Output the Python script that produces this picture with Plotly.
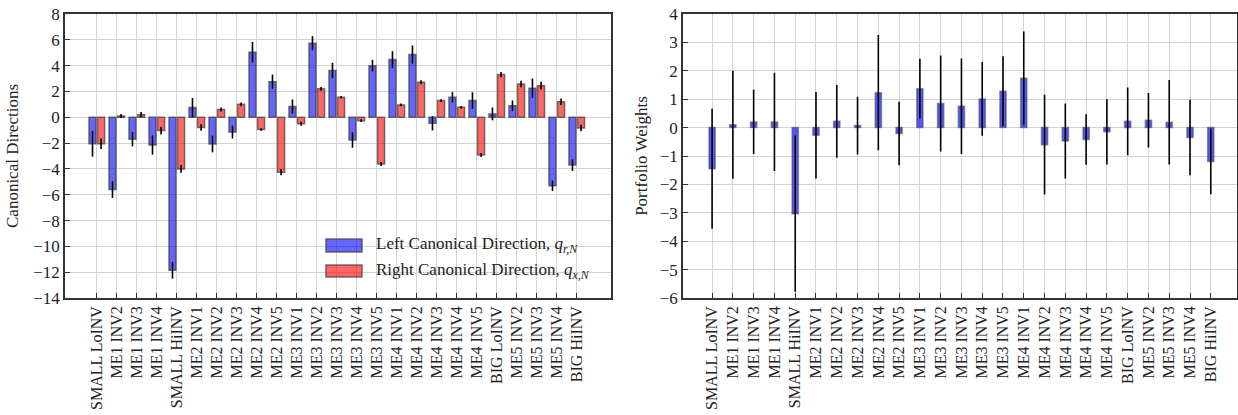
import plotly.graph_objects as go

categories = ["SMALL LoINV", "ME1 INV2", "ME1 INV3", "ME1 INV4", "SMALL HiINV",
              "ME2 INV1", "ME2 INV2", "ME2 INV3", "ME2 INV4", "ME2 INV5",
              "ME3 INV1", "ME3 INV2", "ME3 INV3", "ME3 INV4", "ME3 INV5",
              "ME4 INV1", "ME4 INV2", "ME4 INV3", "ME4 INV4", "ME4 INV5",
              "BIG LoINV", "ME5 INV2", "ME5 INV3", "ME5 INV4", "BIG HiINV"]

left_dir = [-2.05, -5.6, -1.7, -2.15, -11.85, 0.75, -2.07, -1.15, 5.04, 2.76,
            0.83, 5.74, 3.62, -1.76, 4.0, 4.47, 4.86, -0.47, 1.55, 1.29,
            0.26, 0.9, 2.25, -5.3, -3.7]
left_err = [1.0, 0.65, 0.55, 0.75, 0.65, 0.75, 0.65, 0.5, 0.8, 0.55,
            0.55, 0.55, 0.6, 0.6, 0.45, 0.65, 0.7, 0.55, 0.4, 0.65,
            0.5, 0.4, 0.75, 0.4, 0.45]
right_dir = [-2.05, 0.1, 0.2, -1.03, -4.0, -0.8, 0.6, 1.0, -0.95, -4.25,
             -0.5, 2.2, 1.55, -0.26, -3.62, 0.96, 2.71, 1.29, 0.78, -2.92,
             3.31, 2.58, 2.45, 1.21, -0.83]
right_err = [0.4, 0.15, 0.2, 0.3, 0.3, 0.25, 0.15, 0.15, 0.1, 0.25,
             0.15, 0.15, 0.1, 0.1, 0.15, 0.1, 0.15, 0.1, 0.1, 0.15,
             0.2, 0.25, 0.3, 0.25, 0.25]

weights = [-1.45, 0.1, 0.2, 0.2, -3.03, -0.27, 0.22, 0.07, 1.23, -0.21,
           1.37, 0.85, 0.75, 1.01, 1.28, 1.74, -0.6, -0.47, -0.42, -0.15,
           0.22, 0.26, 0.19, -0.35, -1.19]
weights_err = [2.11, 1.9, 1.13, 1.73, 2.75, 1.52, 1.28, 1.02, 2.03, 1.12,
               1.05, 1.69, 1.68, 1.3, 1.23, 1.64, 1.76, 1.32, 0.89, 1.15,
               1.19, 0.96, 1.49, 1.33, 1.16]

legend_names = ["Left Canonical Direction, <i>q</i><sub><i>r,N</i></sub>",
                "Right Canonical Direction, <i>q</i><sub><i>x,N</i></sub>"]

FONT = "Liberation Serif"
BLUE = "rgba(0,0,255,0.6)"
RED = "rgba(255,0,0,0.6)"
EDGE = "rgba(60,60,60,0.7)"

fig = go.Figure()

fig.add_trace(go.Bar(
    x=categories, y=left_dir, xaxis="x", yaxis="y", name=legend_names[0], showlegend=False,
    marker=dict(color=BLUE, line=dict(color=EDGE, width=1.5)),
    width=0.35, offset=-0.4,
    error_y=dict(type="data", array=left_err, color="black", thickness=1.6, width=0),
))
fig.add_trace(go.Bar(
    x=categories, y=right_dir, xaxis="x", yaxis="y", name=legend_names[1], showlegend=False,
    marker=dict(color=RED, line=dict(color=EDGE, width=1.5)),
    width=0.35, offset=0.03,
    error_y=dict(type="data", array=right_err, color="black", thickness=1.6, width=0),
))
fig.add_trace(go.Bar(
    x=categories, y=weights, xaxis="x2", yaxis="y2", showlegend=False,
    marker=dict(color="rgba(0,0,255,0.65)", line=dict(color="rgba(60,60,60,0.5)", width=1.5)),
    width=0.3,
    error_y=dict(type="data", array=weights_err, color="black", thickness=1.6, width=0),
))

# legend (drawn as patches + labels to get matplotlib-style wide patches)
legend_rows = [(0.2077, 0.162, BLUE, 0.185), (0.116, 0.074, RED, 0.095)]
for (y1, y0, col, yc), name in zip(legend_rows, legend_names):
    fig.add_shape(type="rect", xref="x domain", yref="y domain",
                  x0=0.478, x1=0.544, y0=y0, y1=y1,
                  fillcolor=col, line=dict(color=EDGE, width=1.5))
    fig.add_annotation(xref="x domain", yref="y domain", x=0.566, y=yc,
                       xanchor="left", yanchor="middle", showarrow=False,
                       text=name, font=dict(family=FONT, size=17, color="#222"))

axis_common = dict(
    showline=True, mirror=True, linecolor="#333", linewidth=1.5,
    showgrid=True, gridcolor="#d3d3d3", gridwidth=1,
    ticks="inside", ticklen=5, tickcolor="#333", tickwidth=1,
    tickfont=dict(family=FONT, size=17, color="#222"),
    zeroline=False,
)
xtick = dict(tickmode="array", tickvals=categories, ticktext=categories,
             tickangle=-90, type="category", automargin=False)

fig.update_layout(
    width=1238, height=415,
    margin=dict(l=0, r=0, t=14, b=117),
    paper_bgcolor="white", plot_bgcolor="white",
    barmode="overlay",
    font=dict(family=FONT, size=17, color="#222"),
    xaxis=dict(domain=[0.0525, 0.4935], range=[-1.6, 25.7], **xtick, **axis_common),
    yaxis=dict(range=[-14, 8], dtick=2, title=dict(text="Canonical Directions",
               font=dict(family=FONT, size=17), standoff=10), **axis_common),
    xaxis2=dict(domain=[0.5517, 0.999], range=[-1.4, 25.25], anchor="y2", **xtick, **axis_common),
    yaxis2=dict(range=[-6, 4], dtick=1, anchor="x2", title=dict(text="Portfolio Weights",
                font=dict(family=FONT, size=17), standoff=8), **axis_common),
    showlegend=False,
)
fig.update_xaxes(tickfont=dict(size=16))

fig.write_html("out.html", config={"displayModeBar": False},
               post_script="document.body.style.margin='0';document.body.style.overflow='hidden';")
